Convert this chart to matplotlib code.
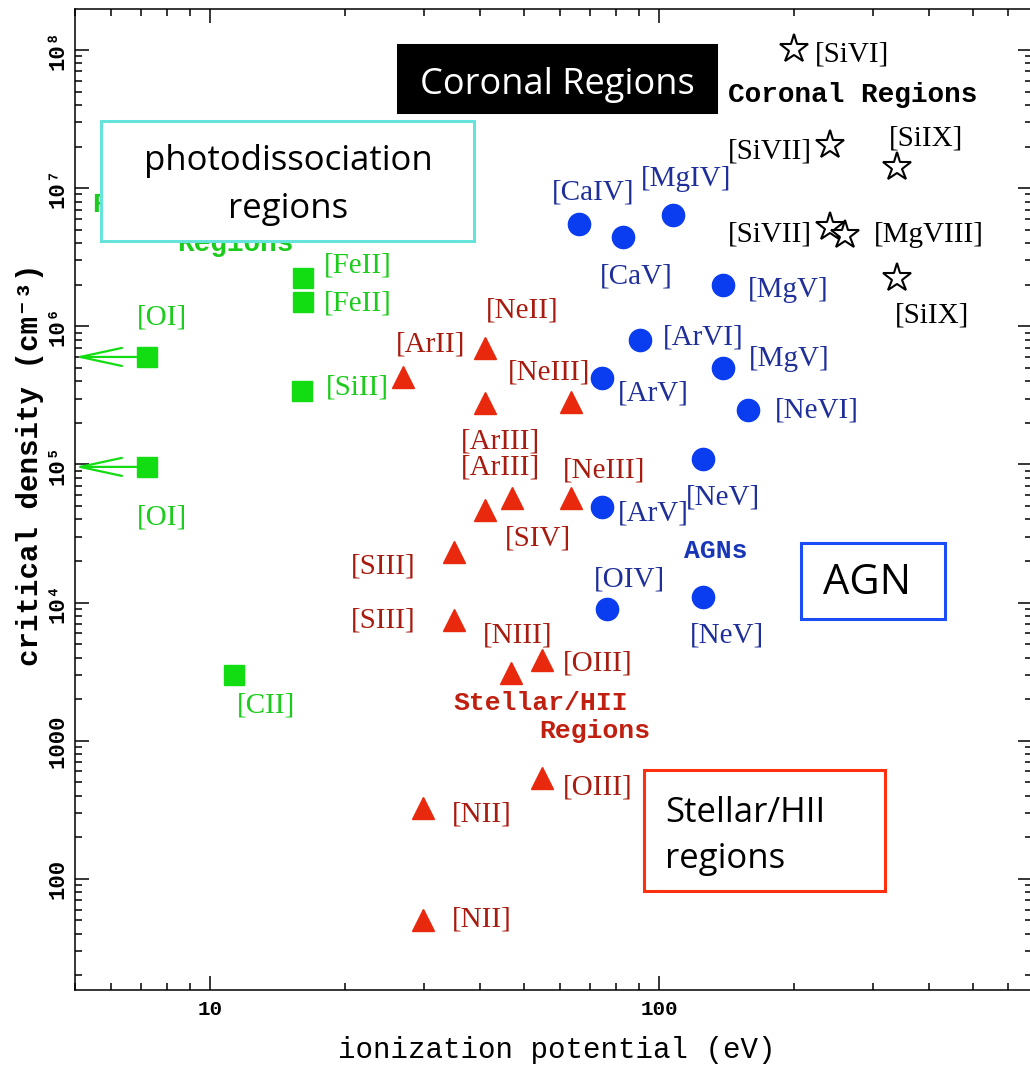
import matplotlib
matplotlib.use('Agg')
import matplotlib.pyplot as plt
from matplotlib.patches import Rectangle
from matplotlib.ticker import NullFormatter

W, H = 1030, 1066

# photodissociation regions (green squares)
pdr_names = ['[OI]', '[OI]', '[FeII]', '[FeII]', '[SiII]', '[CII]']
pdr_ip = [7.24, 7.24, 16.1, 16.1, 16.0, 11.3]
pdr_ncrit = [6.0e5, 9.6e4, 2.24e6, 1.50e6, 3.41e5, 3.0e3]
pdr_offsets = [(15, 39), (15, -51), (55, 12), (55, -2), (56, 3), (32, -31)]
pdr_limit = [True, True, False, False, False, False]

# stellar / HII regions (red triangles)
hii_names = ['[ArII]', '[NeII]', '[ArIII]', '[NeIII]', '[ArIII]', '[SIV]', '[NeIII]',
             '[SIII]', '[SIII]', '[NIII]', '[OIII]', '[OIII]', '[NII]', '[NII]']
hii_ip = [26.9, 41.0, 41.0, 63.6, 41.0, 47.1, 63.6, 34.9, 34.9, 46.8, 54.9, 54.9, 29.8, 29.8]
hii_ncrit = [4.3e5, 6.98e5, 2.79e5, 2.84e5, 4.69e4, 5.73e4, 5.73e4,
             2.33e4, 7.51e3, 3.1e3, 3.86e3, 540, 327, 50.7]
hii_offsets = [(27, 32), (37, 37), (15, -39), (-22, 29), (15, 42), (26, -41), (33, 27),
               (-71, -15), (-71, -1), (7, 37), (56, -4), (56, -10), (59, -7), (59, 0)]

# AGN lines (blue circles)
agn_names = ['[CaIV]', '[CaV]', '[MgIV]', '[MgV]', '[ArVI]', '[ArV]', '[MgV]', '[NeVI]',
             '[NeV]', '[ArV]', '[OIV]', '[NeV]']
agn_ip = [66.4, 83.2, 107.5, 139, 90.7, 74.7, 139, 158, 125, 74.7, 76.6, 125]
agn_ncrit = [5.51e6, 4.44e6, 6.40e6, 1.99e6, 7.97e5, 4.23e5, 5.0e5, 2.48e5,
             1.10e5, 4.93e4, 9.02e3, 1.10e4]
agn_offsets = [(14, 31), (13, -40), (13, 36), (65, -5), (63, 2), (51, -16), (66, 9), (69, -1),
               (20, -39), (51, -7), (22, 29), (24, -39)]

# coronal lines (open stars)
cor_names = ['[SiVI]', '[SiVII]', '[SiVII]', '[MgVIII]', '[SiIX]', '[SiIX]']
cor_ip = [200, 240, 240, 260, 339, 339]
cor_ncrit = [1.02e8, 2.05e7, 5.24e6, 4.58e6, 1.42e7, 2.24e6]
cor_offsets = [(58, -6), (-60, -6), (-60, -8), (83, 0), (29, 29), (35, -38)]

x_ticks = [10, 100]
x_tick_text = ['10', '100']
y_ticks = [100, 1000, 1e4, 1e5, 1e6, 1e7, 1e8]
y_tick_text = ['100', '1000', '10⁴', '10⁵', '10⁶', '10⁷', '10⁸']

GREEN, GREEN_TXT = '#12dd12', '#1ccc1c'
RED, RED_TXT = '#e8290e', '#a81c10'
BLUE, BLUE_TXT = '#0a3cf0', '#1f2f9a'
SERIF = 'Liberation Serif'
MONO = ['Liberation Mono', 'DejaVu Sans Mono']
BOXFONT = 'Open Sans'


def fx(px):
    return px / W


def fy(py):
    return 1 - py / H


fig = plt.figure(figsize=(W / 100, H / 100), dpi=100)
ax = fig.add_axes([fx(75), fy(990), (1032 - 75) / W, (990 - 9) / H])
ax.set_xscale('log')
ax.set_yscale('log')
ax.set_xlim(5.0, 677)
ax.set_ylim(15.7, 1.98e8)


def draw_group(ip, ncrit, names, offsets, marker, ms, color, tcolor, **kw):
    ax.plot(ip, ncrit, marker, ms=ms, color=color, ls='none', zorder=4, **kw)
    for name, x, y, off in zip(names, ip, ncrit, offsets):
        ax.annotate(name, (x, y), xytext=off, textcoords='offset pixels',
                    ha='center', va='center', fontsize=21, family=SERIF,
                    color=tcolor, zorder=5)


# upper-limit arrows for [OI]
for x, y, lim in zip(pdr_ip, pdr_ncrit, pdr_limit):
    if lim:
        ax.annotate('', xy=(5.0, y), xytext=(x, y),
                    arrowprops=dict(arrowstyle='->,head_length=3.0,head_width=0.65',
                                    color=GREEN, lw=1.6, shrinkA=0, shrinkB=0,
                                    mutation_scale=10), zorder=3)

draw_group(pdr_ip, pdr_ncrit, pdr_names, pdr_offsets, 's', 14, GREEN, GREEN_TXT)
draw_group(hii_ip, hii_ncrit, hii_names, hii_offsets, '^', 16, RED, RED_TXT)
draw_group(agn_ip, agn_ncrit, agn_names, agn_offsets, 'o', 16, BLUE, BLUE_TXT)
draw_group(cor_ip, cor_ncrit, cor_names, cor_offsets, '*', 21, 'black', 'black',
           mfc='white', mec='black', mew=1.5)

# ticks
ax.set_xticks(x_ticks, x_tick_text)
ax.set_yticks(y_ticks, y_tick_text)
ax.xaxis.set_minor_formatter(NullFormatter())
ax.yaxis.set_minor_formatter(NullFormatter())
ax.tick_params(which='both', direction='in', top=True, right=True, width=1.1)
ax.tick_params(which='major', length=10)
ax.tick_params(which='minor', length=5)
ax.tick_params(axis='x', pad=7, labelsize=15)
ax.tick_params(axis='y', pad=5, labelsize=16, labelrotation=90)
for lab in ax.get_xticklabels():
    lab.set_family(MONO)
    lab.set_fontweight('bold')
for lab in ax.get_yticklabels():
    lab.set_family(MONO)
    lab.set_fontweight('bold')
    lab.set_va('center')
for sp in ax.spines.values():
    sp.set_linewidth(1.1)

# axis titles
fig.text(fx(557), fy(1050), 'ionization potential (eV)', ha='center', va='center',
         fontsize=21, family=MONO)
fig.text(fx(30), fy(465), 'critical density (cm⁻³)', ha='center', va='center',
         rotation=90, fontsize=21, family=MONO, fontweight='bold')

# region names from the original plot
fig.text(fx(853), fy(95), 'Coronal Regions', ha='center', va='center',
         fontsize=20, family=MONO, fontweight='bold')
fig.text(fx(716), fy(551), 'AGNs', ha='center', va='center',
         fontsize=19, family=MONO, fontweight='bold', color='#1836b8')
fig.text(fx(541), fy(703), 'Stellar/HII', ha='center', va='center',
         fontsize=19, family=MONO, fontweight='bold', color='#c02010')
fig.text(fx(595), fy(731), 'Regions', ha='center', va='center',
         fontsize=19, family=MONO, fontweight='bold', color='#c02010')
fig.text(fx(92), fy(205), 'Photodissociation', ha='left', va='center',
         fontsize=20, family=MONO, fontweight='bold', color=GREEN_TXT, zorder=4)
fig.text(fx(235), fy(244), 'Regions', ha='center', va='center',
         fontsize=20, family=MONO, fontweight='bold', color=GREEN_TXT, zorder=4)


# overlay boxes
def box(x0, y0, x1, y1, face, edge):
    fig.add_artist(Rectangle((fx(x0), fy(y1)), (x1 - x0) / W, (y1 - y0) / H,
                             transform=fig.transFigure, facecolor=face,
                             edgecolor=edge, lw=2.2, zorder=10))


box(398, 45, 716, 112, 'black', 'black')
fig.text(fx(557), fy(85), 'Coronal Regions', ha='center', va='center', color='white',
         fontsize=26, family=BOXFONT, zorder=11)

box(101, 121, 474, 241, 'white', '#66e3da')
fig.text(fx(288), fy(185), 'photodissociation\nregions', ha='center', va='center',
         fontsize=25, family=BOXFONT, linespacing=1.55, zorder=11)

box(801, 543, 945, 619, 'white', '#1a4df5')
fig.text(fx(867), fy(583), 'AGN', ha='center', va='center',
         fontsize=30, family=BOXFONT, zorder=11)

box(644, 770, 885, 891, 'white', '#ff3010')
fig.text(fx(665), fy(836), 'Stellar/HII\nregions', ha='left', va='center',
         fontsize=25, family=BOXFONT, linespacing=1.5, zorder=11)

fig.savefig('out.png', dpi=100)
